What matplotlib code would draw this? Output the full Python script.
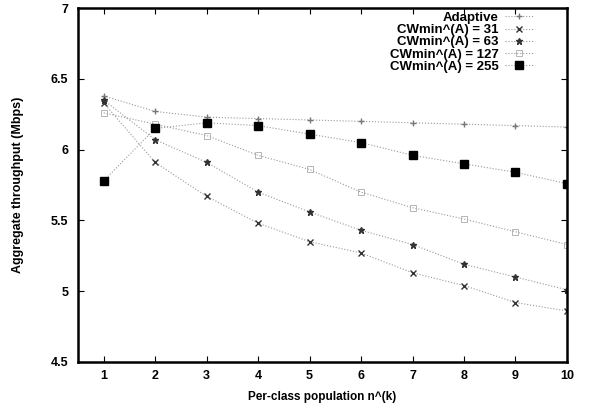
import matplotlib
matplotlib.use('Agg')
import matplotlib.pyplot as plt

n_k = [1, 2, 3, 4, 5, 6, 7, 8, 9, 10]
adaptive = [6.38, 6.27, 6.23, 6.22, 6.21, 6.20, 6.19, 6.18, 6.17, 6.16]
cw31 = [6.33, 5.91, 5.67, 5.48, 5.35, 5.27, 5.13, 5.04, 4.92, 4.86]
cw63 = [6.35, 6.07, 5.91, 5.70, 5.56, 5.43, 5.33, 5.19, 5.10, 5.01]
cw127 = [6.26, 6.18, 6.10, 5.96, 5.86, 5.70, 5.59, 5.51, 5.42, 5.33]
cw255 = [5.78, 6.15, 6.19, 6.17, 6.11, 6.05, 5.96, 5.90, 5.84, 5.76]
yticks = [4.5, 5, 5.5, 6, 6.5, 7]

plt.rcParams['font.family'] = ['Liberation Sans', 'DejaVu Sans']
plt.rcParams['font.weight'] = 'bold'

fig = plt.figure(figsize=(5.89, 4.07), dpi=100)
ax = fig.add_axes([0.1324, 0.1106, 0.8302, 0.8694])

# dotted grey lines, small dark marks (gnuplot linespoints look)
line_kw = dict(linestyle=':', color='#999999', linewidth=0.8)
ax.plot(n_k, adaptive, marker='+', markersize=5, markeredgecolor='#777777', label='Adaptive', **line_kw)
ax.plot(n_k, cw31, marker='x', markersize=4, markeredgecolor='#333333', label='CWmin^(A) = 31', **line_kw)
ax.plot(n_k, cw63, marker='*', markersize=5, markeredgecolor='#333333', markerfacecolor='#333333', label='CWmin^(A) = 63', **line_kw)
ax.plot(n_k, cw127, marker='s', markersize=4, markeredgecolor='#aaaaaa', markerfacecolor='none',
        markeredgewidth=0.6, label='CWmin^(A) = 127', **line_kw)
ax.plot(n_k, cw255, marker='s', markersize=6, markerfacecolor='black', markeredgecolor='black',
        label='CWmin^(A) = 255', **line_kw)

ax.set_xlim(0.5, 10)
ax.set_ylim(4.5, 7)
ax.set_xticks(n_k)
ax.set_yticks(yticks)
ax.set_yticklabels(['4.5', '5', '5.5', '6', '6.5', '7'])
ax.tick_params(direction='in', top=True, right=True, length=4, labelsize=9, width=0.8)
ax.tick_params(axis='y', pad=7)
ax.tick_params(axis='x', pad=6)
for s in ax.spines.values():
    s.set_linewidth(1.8)

ax.set_xlabel('Per-class population n^(k)', fontsize=8.5, fontweight='bold', labelpad=6)
ax.set_ylabel('Aggregate throughput (Mbps)', fontsize=9, fontweight='bold', labelpad=19)

leg = ax.legend(loc='upper right', bbox_to_anchor=(0.93, 0.99), frameon=False, markerfirst=False,
                fontsize=9.5, handlelength=2.1, labelspacing=0.0, borderaxespad=0,
                borderpad=0, handletextpad=0.5)
for t in leg.get_texts():
    t.set_fontweight('bold')

fig.savefig('out.png', dpi=100)
